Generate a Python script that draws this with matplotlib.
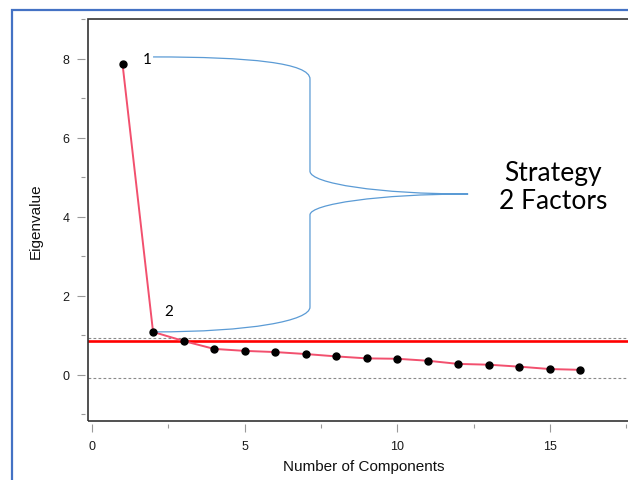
import matplotlib
matplotlib.use("Agg")
import matplotlib.pyplot as plt
from matplotlib.path import Path
from matplotlib.patches import PathPatch, Rectangle
from matplotlib.ticker import MultipleLocator

# ---- data ----
components = list(range(1, 17))
eigenvalues = [7.87, 1.09, 0.86, 0.66, 0.61, 0.58, 0.53, 0.47,
               0.42, 0.41, 0.36, 0.28, 0.26, 0.21, 0.15, 0.13]
red_cutoff = 0.87
dashed_levels = [0.93, -0.07]
x_major = [0, 5, 10, 15]
y_major = [0, 2, 4, 6, 8]
point_labels = ["1", "2"]
annotation_text = "Strategy\n2 Factors"

fig = plt.figure(figsize=(6.28, 4.81), dpi=100)
W, H = 628, 481
# axes in pixel geometry (extends beyond right edge as in reference)
left_px, right_px, top_px, bottom_px = 88, 640, 20, 422
ax = fig.add_axes([left_px / W, 1 - bottom_px / H,
                   (right_px - left_px) / W, (bottom_px - top_px) / H])
ax.set_xlim(-0.131, 17.95)
ax.set_ylim(-1.165, 9.01)

# gray dashed reference lines
for lv in dashed_levels:
    ax.axhline(lv, color="#8a8a8a", lw=0.8, ls=(0, (2.5, 2)), zorder=1)
# red cutoff line
ax.axhline(red_cutoff, color="#ff0000", lw=1.9, zorder=2)
# scree line
ax.plot(components, eigenvalues, color="#f2506e", lw=1.4, zorder=3)
ax.plot(components, eigenvalues, "o", color="black", ms=5.0, zorder=4)

# spines / ticks R-style
for s in ["left", "bottom"]:
    ax.spines[s].set_position(("outward", 2.5))
    ax.spines[s].set_visible(False)
for s in ["top", "right"]:
    ax.spines[s].set_visible(False)
ax.add_patch(Rectangle((0, 0), 1, 1, transform=ax.transAxes, fill=False,
                       ec="#333333", lw=1.2, clip_on=False, zorder=5))

ax.set_xticks(x_major)
ax.xaxis.set_minor_locator(MultipleLocator(2.5))
ax.set_yticks(y_major)
ax.yaxis.set_minor_locator(MultipleLocator(1))
ax.tick_params(which="major", length=6, width=0.8, color="#999999",
               labelsize=9, labelcolor="#1a1a1a", pad=5)
ax.tick_params(which="minor", length=3, width=0.8, color="#999999")
for lab in ax.get_xticklabels() + ax.get_yticklabels():
    lab.set_family("Liberation Sans")

ax.set_xlabel("Number of Components", fontsize=11, family="Liberation Sans",
              color="#111111", labelpad=5)
ax.set_ylabel("Eigenvalue", fontsize=11, family="Liberation Sans",
              color="#111111", labelpad=14)

# point labels
ax.text(1.80, 7.99, point_labels[0], fontsize=11, family="Lato",
        ha="center", va="center", color="black")
ax.text(2.52, 1.62, point_labels[1], fontsize=11, family="Lato",
        ha="center", va="center", color="black")

# curly brace
verts = [(2.00, 8.05), (5.18, 8.05), (7.14, 7.90), (7.14, 7.49),
         (7.14, 5.16),
         (7.14, 4.84), (9.43, 4.58), (12.32, 4.58),
         (9.43, 4.58), (7.14, 4.33), (7.14, 4.05),
         (7.14, 1.72),
         (7.14, 1.37), (5.18, 1.09), (2.00, 1.09)]
codes = [Path.MOVETO, Path.CURVE4, Path.CURVE4, Path.CURVE4,
         Path.LINETO,
         Path.CURVE4, Path.CURVE4, Path.CURVE4,
         Path.CURVE4, Path.CURVE4, Path.CURVE4,
         Path.LINETO,
         Path.CURVE4, Path.CURVE4, Path.CURVE4]
ax.add_patch(PathPatch(Path(verts, codes), fill=False, ec="#5b9bd5",
                       lw=0.9, zorder=3))

ax.text(15.10, 4.78, annotation_text, fontsize=19, family="Lato",
        ha="center", va="center", linespacing=1.15, color="black")

# outer blue border (slide frame)
fig.patches.append(Rectangle((12 / W, -0.2), 1.2, (1 - 11 / H) + 0.2,
                             transform=fig.transFigure, fill=False,
                             ec="#4472c4", lw=1.6))

fig.savefig("out.png", dpi=100)
